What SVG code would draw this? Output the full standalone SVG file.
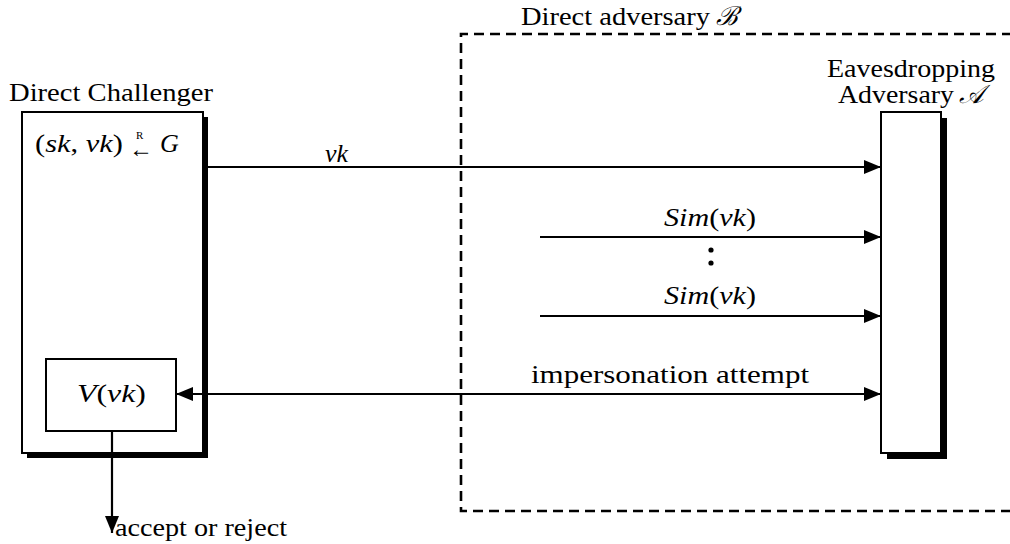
<svg xmlns="http://www.w3.org/2000/svg" width="1010" height="544" viewBox="0 0 1010 544" font-family="'Liberation Serif', 'Times New Roman', serif" font-size="26">
<style>
.t{font-family:'Liberation Serif','Times New Roman',serif;font-size:26px;fill:#000}
.it{font-style:italic}
.box{fill:#fff;stroke:#000;stroke-width:2}
.shadow{fill:#000}
.conn{stroke:#000;stroke-width:2.2;fill:none}
.dash{stroke:#000;stroke-width:2.6;fill:none;stroke-dasharray:10 6}
</style>
<defs>
<marker id="ah" markerUnits="userSpaceOnUse" markerWidth="17" markerHeight="14" refX="17" refY="7" orient="auto-start-reverse">
<path d="M0,0 L17,7 L0,14 z" fill="#000"/>
</marker>
</defs>
<rect width="1010" height="544" fill="#fff"/>

<g id="direct-adversary">
<path class="dash" d="M1012,34 H461 V511 H1012"/>
<text class="t" x="521" y="25" textLength="189" lengthAdjust="spacingAndGlyphs">Direct adversary</text>
<text class="t it" x="716" y="25">ℬ</text>
</g>

<g id="challenger">
<rect class="shadow" x="27" y="117" width="181" height="341"/>
<rect class="box" x="22" y="112" width="181" height="341"/>
<text class="t" x="9" y="101" textLength="204" lengthAdjust="spacingAndGlyphs">Direct Challenger</text>
<text class="t" x="35" y="152"><tspan textLength="88" lengthAdjust="spacingAndGlyphs">(<tspan class="it">sk</tspan>, <tspan class="it">vk</tspan>)</tspan><tspan x="129" y="157" style="font-size:24px">←</tspan><tspan x="136" y="139" style="font-size:11px">R</tspan><tspan class="it" x="160" y="152">G</tspan></text>
</g>

<g id="verifier">
<rect class="box" x="46" y="359" width="130" height="72"/>
<text class="t" x="77" y="402" textLength="69" lengthAdjust="spacingAndGlyphs"><tspan class="it">V</tspan>(<tspan class="it">vk</tspan>)</text>
</g>

<g id="eavesdropper">
<rect class="shadow" x="887" y="118" width="60" height="341"/>
<rect class="box" x="881" y="112" width="60" height="341"/>
<text class="t"><tspan x="827" y="77" textLength="168" lengthAdjust="spacingAndGlyphs">Eavesdropping</tspan><tspan x="838" y="103" textLength="116" lengthAdjust="spacingAndGlyphs">Adversary</tspan><tspan class="it" x="959" y="103">𝒜</tspan></text>
</g>

<g id="connectors">
<line class="conn" x1="203" y1="167" x2="881" y2="167" marker-end="url(#ah)"/>
<text class="t it" x="325" y="162">vk</text>

<line class="conn" x1="540" y1="237" x2="881" y2="237" marker-end="url(#ah)"/>
<text class="t" x="664" y="226" textLength="92" lengthAdjust="spacingAndGlyphs"><tspan class="it">Sim</tspan>(<tspan class="it">vk</tspan>)</text>
<circle cx="711" cy="250" r="2.6" fill="#000"/>
<circle cx="711" cy="263" r="2.6" fill="#000"/>

<line class="conn" x1="540" y1="316" x2="881" y2="316" marker-end="url(#ah)"/>
<text class="t" x="664" y="304" textLength="92" lengthAdjust="spacingAndGlyphs"><tspan class="it">Sim</tspan>(<tspan class="it">vk</tspan>)</text>

<line class="conn" x1="176" y1="394" x2="881" y2="394" marker-start="url(#ah)" marker-end="url(#ah)"/>
<text class="t" x="531" y="383" textLength="278" lengthAdjust="spacingAndGlyphs">impersonation attempt</text>

<line class="conn" x1="112" y1="431" x2="112" y2="533" marker-end="url(#ah)"/>
<text class="t" x="115" y="536" textLength="172" lengthAdjust="spacingAndGlyphs">accept or reject</text>
</g>
</svg>
